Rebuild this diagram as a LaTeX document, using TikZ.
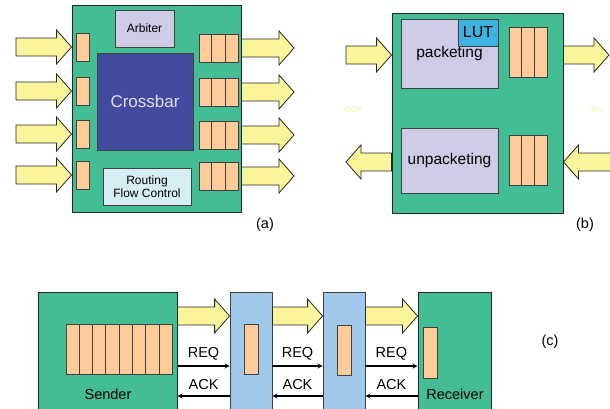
\documentclass[tikz,border=0pt]{standalone}
\usepackage{fontspec}
\setmainfont{Liberation Sans}
\usetikzlibrary{calc,positioning}

\definecolor{rgreen}{RGB}{66,189,148}
\definecolor{lav}{RGB}{205,203,230}
\definecolor{xbar}{RGB}{67,74,158}
\definecolor{xbtext}{RGB}{225,225,245}
\definecolor{rtcyan}{RGB}{214,238,243}
\definecolor{bufor}{RGB}{255,204,153}
\definecolor{fatyel}{RGB}{250,245,155}
\definecolor{lutblue}{RGB}{64,178,226}
\definecolor{stgblue}{RGB}{160,200,235}
\definecolor{paleyel}{RGB}{250,245,195}

% fat yellow arrow from #1 to #2 (horizontal)
\newcommand{\fatarrow}[2]{%
  \draw[fat] let \p1=(#1), \p2=(#2), \n1={ifthenelse(\x2>\x1,15,-15)} in
    (\x1,{\y1+9pt}) -- ({\x2-(\n1)*1pt},{\y1+9pt}) -- ({\x2-(\n1)*1pt},{\y1+17pt})
    -- (\x2,\y1) -- ({\x2-(\n1)*1pt},{\y1-17pt}) -- ({\x2-(\n1)*1pt},{\y1-9pt})
    -- (\x1,{\y1-9pt}) -- cycle;}

% split buffer node #1 into #2 cells
\newcommand{\cells}[2]{%
  \pgfmathtruncatemacro\ncut{#2-1}%
  \foreach \k in {1,...,\ncut}
    \draw[buf] ($(#1.south west)!\k/#2!(#1.south east)$) -- ($(#1.north west)!\k/#2!(#1.north east)$);}

\begin{document}
\begin{tikzpicture}[x=1pt, y=-1pt, >=stealth,
    chip/.style={draw=black!85, fill=rgreen, line width=1pt, inner sep=0pt},
    blk/.style={draw=black!75, line width=0.8pt, inner sep=0pt, align=center},
    buf/.style={draw=black!75, fill=bufor, line width=0.8pt, inner sep=0pt},
    fat/.style={draw=black!85, fill=fatyel, line width=0.8pt},
    sig/.style={->, line width=1.2pt},
    txt/.style={font=\fontsize{14.5}{16}\selectfont},
    small/.style={font=\fontsize{12}{13.5}\selectfont, align=center}]

    \useasboundingbox (0,0) rectangle (610,408);

    % (a) router
    \node[chip, minimum width=169pt, minimum height=207pt] (ra) at (156.5,108.5) {};
    \node[blk, fill=lav, small, minimum width=59pt, minimum height=37pt] (arb) at (144.5,28.5) {Arbiter};
    \node[blk, fill=xbar, text=xbtext, font=\fontsize{17}{18}\selectfont, minimum width=96pt, minimum height=97pt] (xb) at (145,101.5) {Crossbar};
    \node[blk, fill=rtcyan, small, minimum width=88pt, minimum height=37pt] (rt) at (147,186.5) {Routing\\Flow Control};

    \foreach \y [count=\i] in {47,91,134,175} {
        \node[buf, minimum width=13pt, minimum height=28pt] (li\i) at (82.5,\y) {};
        \coordinate (ai\i) at (16,\y);
        \fatarrow{ai\i}{ai\i -| ra.west}
    }
    \foreach \y [count=\i] in {48,92,135,176} {
        \node[buf, minimum width=39pt, minimum height=28pt] (ro\i) at (218.5,\y) {};
        \cells{ro\i}{3}
        \coordinate (ao\i) at (294,\y);
        \fatarrow{ao\i -| ra.east}{ao\i}
    }
    \node[txt] (la) at (265,225) {(a)};

    % (b) network interface
    \node[chip, minimum width=171pt, minimum height=200pt] (rb) at (477.5,113) {};
    \node[blk, fill=lav, font=\fontsize{15.5}{17}\selectfont, minimum width=97pt, minimum height=69pt] (pk) at (449.5,53.5) {packeting};
    \node[blk, fill=lutblue, font=\fontsize{16}{18}\selectfont, minimum width=40pt, minimum height=27pt, anchor=north east] (lut) at (pk.north east) {LUT};
    \node[blk, fill=lav, font=\fontsize{15.5}{17}\selectfont, minimum width=97pt, minimum height=65pt] (upk) at (449.5,160.5) {unpacketing};
    \node[buf, minimum width=38pt, minimum height=50pt] (bt) at (528,52) {};
    \cells{bt}{3}
    \node[buf, minimum width=38pt, minimum height=50pt] (bb) at (528,160) {};
    \cells{bb}{3}

    \coordinate (ocpin) at (346,55);
    \coordinate (ocpout) at (346,162);
    \coordinate (flout) at (609,55);
    \coordinate (flin) at (612,162);
    \fatarrow{ocpin}{ocpin -| rb.west}
    \fatarrow{ocpout -| rb.west}{ocpout}
    \fatarrow{flout -| rb.east}{flout}
    \fatarrow{flin}{flin -| rb.east}

    \node[text=paleyel, font=\fontsize{8}{9}\selectfont\bfseries] (ocp) at (353,110) {OCP};
    \node[text=paleyel, font=\fontsize{8}{9}\selectfont\bfseries] (flits) at (596,110) {flits};
    \node[txt] (lb) at (585,225) {(b)};

    % (c) link pipeline
    \node[chip, minimum width=139pt, minimum height=120pt] (sd) at (107.5,352) {};
    \node[buf, minimum width=106pt, minimum height=50pt] (sb) at (119,349) {};
    \cells{sb}{8}
    \node[txt] (sdl) at (108,394) {Sender};

    \node[blk, fill=stgblue, minimum width=42pt, minimum height=120pt] (s1) at (251,352) {};
    \node[buf, minimum width=14pt, minimum height=50pt] (b1) at (251,349) {};
    \node[blk, fill=stgblue, minimum width=42pt, minimum height=120pt] (s2) at (344,352) {};
    \node[buf, minimum width=14pt, minimum height=50pt] (b2) at (344,350) {};

    \node[chip, minimum width=73pt, minimum height=120pt] (rc) at (454.5,352) {};
    \node[buf, minimum width=14pt, minimum height=51pt] (b3) at (430,352.5) {};
    \node[txt] (rcl) at (455,394) {Receiver};

    \fatarrow{[yshift=36pt]sd.east}{[yshift=36pt]sd.east -| s1.west}
    \fatarrow{[yshift=36pt]s1.east}{[yshift=36pt]s1.east -| s2.west}
    \fatarrow{[yshift=36pt]s2.east}{[yshift=36pt]s2.east -| rc.west}

    \draw[sig] ([yshift=-14pt]sd.east) -- node[txt, above=2pt] {REQ} ([yshift=-14pt]s1.west);
    \draw[sig] ([yshift=-44pt]s1.west) -- node[txt, above=2pt] {ACK} ([yshift=-44pt]sd.east);
    \draw[sig] ([yshift=-14pt]s1.east) -- node[txt, above=2pt] {REQ} ([yshift=-14pt]s2.west);
    \draw[sig] ([yshift=-44pt]s2.west) -- node[txt, above=2pt] {ACK} ([yshift=-44pt]s1.east);
    \draw[sig] ([yshift=-14pt]s2.east) -- node[txt, above=2pt] {REQ} ([yshift=-14pt]rc.west);
    \draw[sig] ([yshift=-44pt]rc.west) -- node[txt, above=2pt] {ACK} ([yshift=-44pt]s2.east);

    \node[txt] (lc) at (550,342) {(c)};

\end{tikzpicture}
\end{document}
